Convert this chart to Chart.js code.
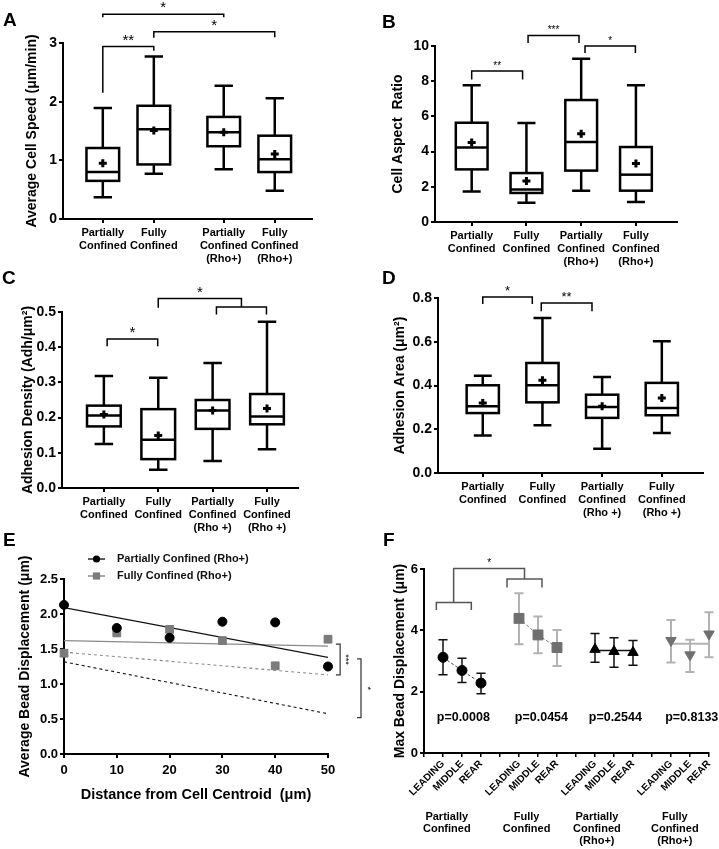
<!DOCTYPE html>
<html>
<head>
<meta charset="utf-8">
<script src="https://cdn.jsdelivr.net/npm/chart.js@4.4.1/dist/chart.umd.min.js"></script>
<style>
body { margin: 0; background: #fff; }
#page { position: relative; width: 719px; height: 849px; overflow: hidden; }
canvas { position: absolute; }
.lt { position: absolute; font: bold 19px "Liberation Sans", Arial, sans-serif; line-height: 1; color: #000; }
</style>
</head>
<body>
<div id="page">
  <canvas id="cA" width="360" height="268" style="left:0;top:0"></canvas>
  <canvas id="cB" width="359" height="268" style="left:360px;top:0"></canvas>
  <canvas id="cC" width="360" height="272" style="left:0;top:268px"></canvas>
  <canvas id="cD" width="359" height="272" style="left:360px;top:268px"></canvas>
  <canvas id="cE" width="380" height="309" style="left:0;top:540px"></canvas>
  <canvas id="cF" width="359" height="309" style="left:360px;top:540px"></canvas>
  <div class="lt" style="left:3px;top:10px">A</div>
  <div class="lt" style="left:382px;top:12px">B</div>
  <div class="lt" style="left:2px;top:268px">C</div>
  <div class="lt" style="left:382px;top:268px">D</div>
  <div class="lt" style="left:3px;top:530px">E</div>
  <div class="lt" style="left:383px;top:530px">F</div>
</div>
<script>
Chart.defaults.font.family = '"Liberation Sans", Arial, Helvetica, sans-serif';
Chart.defaults.color = '#000';

// ---- A: average cell speed
const labelsA = [['Partially', 'Confined'], ['Fully', 'Confined'], ['Partially', 'Confined', '(Rho+)'], ['Fully', 'Confined', '(Rho+)']];
const speedPos = [0, 1, 2.37, 3.37];
const speedMin = [0.37, 0.77, 0.85, 0.48];
const speedQ1 = [0.65, 0.93, 1.24, 0.80];
const speedMed = [0.80, 1.53, 1.48, 1.02];
const speedQ3 = [1.21, 1.93, 1.74, 1.42];
const speedMax = [1.89, 2.77, 2.27, 2.06];
const speedMean = [0.95, 1.51, 1.48, 1.11];
const speedSig = [
  { x1: 0, x2: 1, top: 2.94, y1: 2.15, y2: 2.87, text: '**' },
  { x1: 1, x2: 3.37, top: 3.19, y1: 3.09, y2: 3.10, text: '*' },
  { x1: 0, x2: 2.37, top: 3.49, y1: 3.44, y2: 3.44, text: '*' }
];

// ---- B: cell aspect ratio
const labelsB = labelsA;
const ratioPos = [0, 1, 2, 3];
const ratioMin = [1.74, 1.10, 1.78, 1.14];
const ratioQ1 = [2.99, 1.65, 2.92, 1.78];
const ratioMed = [4.24, 1.84, 4.55, 2.69];
const ratioQ3 = [5.64, 2.78, 6.93, 4.26];
const ratioMax = [7.77, 5.63, 9.28, 7.77];
const ratioMean = [4.51, 2.33, 5.02, 3.33];
const ratioSig = [
  { x1: 0, x2: 0.93, top: 8.58, y1: 8.1, y2: 8.1, text: '**' },
  { x1: 1.03, x2: 1.96, top: 10.6, y1: 10.17, y2: 10.17, text: '***' },
  { x1: 2.07, x2: 2.99, top: 10.0, y1: 9.6, y2: 9.6, text: '*' }
];

// ---- C: adhesion density
const labelsC = [['Partially', 'Confined'], ['Fully', 'Confined'], ['Partially', 'Confined', '(Rho +)'], ['Fully', 'Confined', '(Rho +)']];
const densPos = [0, 1, 2, 3];
const densMin = [0.125, 0.052, 0.077, 0.110];
const densQ1 = [0.175, 0.082, 0.168, 0.181];
const densMed = [0.206, 0.137, 0.220, 0.203];
const densQ3 = [0.234, 0.224, 0.250, 0.267];
const densMax = [0.318, 0.313, 0.355, 0.472];
const densMean = [0.209, 0.149, 0.220, 0.226];
const densSig = [
  { x1: 0.06, x2: 0.99, top: 0.423, y1: 0.403, y2: 0.403, text: '*' },
  { x1: 1.0, x2: 2.53, top: 0.538, y1: 0.512, y2: 0.514, text: '*' },
  { x1: 2.07, x2: 2.99, top: 0.514, y1: 0.493, y2: 0.493, text: '' }
];

// ---- D: adhesion area
const labelsD = labelsC;
const areaPos = [0, 1, 2, 3];
const areaMin = [0.171, 0.218, 0.111, 0.183];
const areaQ1 = [0.274, 0.323, 0.252, 0.264];
const areaMed = [0.305, 0.401, 0.302, 0.297];
const areaQ3 = [0.401, 0.503, 0.358, 0.412];
const areaMax = [0.445, 0.709, 0.439, 0.602];
const areaMean = [0.320, 0.424, 0.305, 0.343];
const areaSig = [
  { x1: 0, x2: 0.83, top: 0.805, y1: 0.773, y2: 0.773, text: '*' },
  { x1: 0.98, x2: 1.83, top: 0.777, y1: 0.74, y2: 0.74, text: '**' }
];

// ---- E: bead displacement vs distance
const distX = [0, 10, 20, 30, 40, 50];
const pcRhoDisp = [2.13, 1.80, 1.66, 1.89, 1.88, 1.25];
const fcRhoDisp = [1.44, 1.73, 1.78, 1.62, 1.26, 1.64];
const fitX = [0, 50];
const pcFit = [2.09, 1.38];
const fcFit = [1.62, 1.54];
const fcDash = [1.455, 1.13];
const pcDash = [1.317, 0.575];
const eSig = [
  { x: 52.3, tick: 51.5, y1: 1.57, y2: 1.13, tx: 53.3, text: '***' },
  { x: 56.25, tick: 55.5, y1: 1.36, y2: 0.52, tx: 57.4, text: '*' }
];

// ---- F: max bead displacement by region
const fTickLabels = ['', 'LEADING', 'MIDDLE', 'REAR', '', 'LEADING', 'MIDDLE', 'REAR', '',
  'LEADING', 'MIDDLE', 'REAR', '', 'LEADING', 'MIDDLE', 'REAR'];
const fGroupNames = [['Partially', 'Confined'], ['Fully', 'Confined'], ['Partially', 'Confined', '(Rho+)'], ['Fully', 'Confined', '(Rho+)']];
const fGroupX = [1.2, 5.4, 9.1, 13.2];
const fPcX = [1, 2, 3], fFcX = [5, 6, 7], fPcrX = [9, 10, 11], fFcrX = [13, 14, 15];
const fPcMean = [3.12, 2.69, 2.28], fPcUp = [3.69, 3.09, 2.60], fPcLo = [2.55, 2.30, 1.93];
const fFcMean = [4.39, 3.85, 3.44], fFcUp = [5.21, 4.45, 4.01], fFcLo = [3.55, 3.25, 2.84];
const fPcrMean = [3.38, 3.31, 3.28], fPcrUp = [3.90, 3.76, 3.67], fPcrLo = [2.96, 2.80, 2.86];
const fFcrMean = [3.67, 3.20, 3.88], fFcrUp = [4.34, 3.69, 4.59], fFcrLo = [2.95, 2.64, 3.12];
const fPcrFit = [3.34, 3.34], fFcrFit = [3.56, 3.56];
const fPText = ['p=0.0008', 'p=0.0454', 'p=0.2544', 'p=0.8133'];
const fPX = [2.07, 6.18, 10.07, 14.09];
const fPY = 1.14;
const fSig = [
  { x1: 0.65, x2: 2.49, top: 4.91, y1: 4.66, y2: 4.66, text: '' },
  { x1: 4.37, x2: 6.21, top: 5.67, y1: 5.40, y2: 5.40, text: '' },
  { x1: 1.56, x2: 5.29, top: 6.02, y1: 4.91, y2: 5.67, text: '*' }
];

const xy = (xs, ys) => xs.map((x, i) => ({ x: x, y: ys[i] }));

function boxPlugin(b) {
  return {
    id: 'boxes',
    beforeDatasetsDraw(chart) {
      const ctx = chart.ctx, xs = chart.scales.x, ys = chart.scales.y;
      const y = v => ys.getPixelForValue(v);
      ctx.save();
      ctx.strokeStyle = '#000';
      ctx.lineWidth = 2.5;
      ctx.fillStyle = '#fff';
      b.pos.forEach((p, i) => {
        const xc = xs.getPixelForValue(p);
        const xl = xs.getPixelForValue(p - b.half), xr = xs.getPixelForValue(p + b.half);
        const cl = xs.getPixelForValue(p - b.cap), cr = xs.getPixelForValue(p + b.cap);
        ctx.beginPath();
        ctx.moveTo(xc, y(b.q3[i])); ctx.lineTo(xc, y(b.max[i]));
        ctx.moveTo(cl, y(b.max[i])); ctx.lineTo(cr, y(b.max[i]));
        ctx.moveTo(xc, y(b.q1[i])); ctx.lineTo(xc, y(b.min[i]));
        ctx.moveTo(cl, y(b.min[i])); ctx.lineTo(cr, y(b.min[i]));
        ctx.stroke();
        ctx.fillRect(xl, y(b.q3[i]), xr - xl, y(b.q1[i]) - y(b.q3[i]));
        ctx.strokeRect(xl, y(b.q3[i]), xr - xl, y(b.q1[i]) - y(b.q3[i]));
        ctx.beginPath();
        ctx.moveTo(xl, y(b.med[i])); ctx.lineTo(xr, y(b.med[i]));
        ctx.stroke();
      });
      ctx.restore();
    }
  };
}

function bracketPlugin(list, fontSize, color, lw) {
  return {
    id: 'brackets',
    afterDatasetsDraw(chart) {
      const ctx = chart.ctx, xs = chart.scales.x, ys = chart.scales.y;
      ctx.save();
      ctx.strokeStyle = color;
      ctx.lineWidth = lw;
      list.forEach(b => {
        const x1 = xs.getPixelForValue(b.x1), x2 = xs.getPixelForValue(b.x2), t = ys.getPixelForValue(b.top);
        ctx.beginPath();
        ctx.moveTo(x1, ys.getPixelForValue(b.y1));
        ctx.lineTo(x1, t);
        ctx.lineTo(x2, t);
        ctx.lineTo(x2, ys.getPixelForValue(b.y2));
        ctx.stroke();
        if (b.text) {
          ctx.fillStyle = '#000';
          ctx.font = fontSize + 'px "Liberation Sans", Arial, sans-serif';
          ctx.textAlign = 'center';
          ctx.textBaseline = 'alphabetic';
          ctx.fillText(b.text, (x1 + x2) / 2, t - 2);
        }
      });
      ctx.restore();
    }
  };
}

function boxChart(id, c) {
  const canvas = document.getElementById(id);
  const W = canvas.width, H = canvas.height;
  const padL = c.titleX - (14 * 1.2 / 2 + 4);
  return new Chart(canvas, {
    type: 'scatter',
    data: {
      datasets: [{
        data: xy(c.pos, c.mean),
        pointStyle: 'cross',
        pointRadius: 4,
        pointHoverRadius: 4,
        borderColor: '#000',
        borderWidth: 3,
        clip: false
      }]
    },
    options: {
      responsive: false,
      animation: false,
      events: [],
      layout: { padding: { left: padL, top: c.area.top, right: W - c.area.right, bottom: 0 } },
      plugins: { legend: { display: false }, tooltip: { enabled: false } },
      scales: {
        x: {
          type: 'linear', min: c.xmin, max: c.xmax,
          afterBuildTicks: s => { s.ticks = c.pos.map(v => ({ value: v })); },
          afterFit: s => { s.height = H - c.area.bottom; },
          grid: { drawOnChartArea: false, drawTicks: true, tickLength: 4, color: '#000', lineWidth: 2 },
          border: { display: true, color: '#000', width: 2 },
          ticks: {
            autoSkip: false, maxRotation: 0, minRotation: 0, padding: 3,
            font: { size: 11, weight: 'bold', lineHeight: 1.2 },
            callback: (v, i) => c.labels[i]
          }
        },
        y: {
          min: 0, max: c.ymax,
          afterFit: s => { s.width = c.area.left - padL; },
          grid: { drawOnChartArea: false, drawTicks: true, tickLength: 4, color: '#000', lineWidth: 2 },
          border: { display: true, color: '#000', width: 2 },
          ticks: { stepSize: c.step, padding: 2, font: { size: 14, weight: 'bold' }, callback: v => c.fmt(v) },
          title: { display: true, text: c.title, font: { size: 14, weight: 'bold' } }
        }
      }
    },
    plugins: [
      boxPlugin({ pos: c.pos, min: c.min, q1: c.q1, med: c.med, q3: c.q3, max: c.max, half: c.half, cap: c.cap }),
      bracketPlugin(c.sig, c.starSize, '#000', 1.5)
    ]
  });
}

boxChart('cA', {
  labels: labelsA, pos: speedPos, min: speedMin, q1: speedQ1, med: speedMed, q3: speedQ3, max: speedMax, mean: speedMean,
  sig: speedSig, starSize: 15, half: 0.32, cap: 0.18,
  area: { left: 63, right: 312, top: 43, bottom: 219 }, titleX: 32,
  xmin: -0.78, xmax: 4.1, ymax: 3, step: 1, fmt: v => String(v),
  title: 'Average Cell Speed (\u03bcm/min)'
});

boxChart('cB', {
  labels: labelsB, pos: ratioPos, min: ratioMin, q1: ratioQ1, med: ratioMed, q3: ratioQ3, max: ratioMax, mean: ratioMean,
  sig: ratioSig, starSize: 10, half: 0.29, cap: 0.165,
  area: { left: 75, right: 317, top: 46, bottom: 222 }, titleX: 38,
  xmin: -0.67, xmax: 3.75, ymax: 10, step: 2, fmt: v => String(v),
  title: 'Cell Aspect  Ratio'
});

boxChart('cC', {
  labels: labelsC, pos: densPos, min: densMin, q1: densQ1, med: densMed, q3: densQ3, max: densMax, mean: densMean,
  sig: densSig, starSize: 15, half: 0.31, cap: 0.17,
  area: { left: 62, right: 298, top: 44, bottom: 220 }, titleX: 28,
  xmin: -0.77, xmax: 3.57, ymax: 0.5, step: 0.1, fmt: v => v.toFixed(1),
  title: 'Adhesion Density (Adh/\u03bcm\u00b2)'
});

boxChart('cD', {
  labels: labelsD, pos: areaPos, min: areaMin, q1: areaQ1, med: areaMed, q3: areaQ3, max: areaMax, mean: areaMean,
  sig: areaSig, starSize: 13, half: 0.27, cap: 0.15,
  area: { left: 78, right: 343, top: 30, bottom: 205 }, titleX: 40,
  xmin: -0.75, xmax: 3.69, ymax: 0.8, step: 0.2, fmt: v => v.toFixed(1),
  title: 'Adhesion Area (\u03bcm\u00b2)'
});

// ---- E chart
const eLegendPlugin = {
  id: 'eLegend',
  afterDraw(chart) {
    const ctx = chart.ctx, a = chart.chartArea;
    const items = [
      { text: 'Partially Confined (Rho+)', color: '#000', shape: 'circle', dy: -20 },
      { text: 'Fully Confined (Rho+)', color: '#7b7b7b', shape: 'rect', dy: -3 }
    ];
    ctx.save();
    items.forEach(it => {
      const y = a.top + it.dy, x0 = a.left + 24, x1 = a.left + 41, xm = (x0 + x1) / 2;
      ctx.strokeStyle = it.color; ctx.fillStyle = it.color; ctx.lineWidth = 1.3;
      ctx.beginPath(); ctx.moveTo(x0, y); ctx.lineTo(x1, y); ctx.stroke();
      if (it.shape === 'circle') {
        ctx.beginPath(); ctx.arc(xm, y, 3.6, 0, Math.PI * 2); ctx.fill();
      } else {
        ctx.fillRect(xm - 3.6, y - 3.6, 7.2, 7.2);
      }
      ctx.fillStyle = '#111';
      ctx.font = 'bold 11px "Liberation Sans", Arial, sans-serif';
      ctx.textAlign = 'left'; ctx.textBaseline = 'middle';
      ctx.fillText(it.text, a.left + 53, y);
    });
    ctx.restore();
  }
};

const eSigPlugin = {
  id: 'eSig',
  afterDraw(chart) {
    const ctx = chart.ctx, xs = chart.scales.x, ys = chart.scales.y;
    ctx.save();
    ctx.strokeStyle = '#333'; ctx.lineWidth = 1.2;
    eSig.forEach(b => {
      const x = xs.getPixelForValue(b.x), xt = xs.getPixelForValue(b.tick);
      const y1 = ys.getPixelForValue(b.y1), y2 = ys.getPixelForValue(b.y2);
      ctx.beginPath();
      ctx.moveTo(xt, y1); ctx.lineTo(x, y1); ctx.lineTo(x, y2); ctx.lineTo(xt, y2);
      ctx.stroke();
      ctx.save();
      ctx.translate(xs.getPixelForValue(b.tx), (y1 + y2) / 2);
      ctx.rotate(Math.PI / 2);
      ctx.fillStyle = '#000';
      ctx.font = '9px "Liberation Sans", Arial, sans-serif';
      ctx.textAlign = 'center'; ctx.textBaseline = 'middle';
      ctx.fillText(b.text, 0, 0);
      ctx.restore();
    });
    ctx.restore();
  }
};

(function () {
  const canvas = document.getElementById('cE');
  const W = canvas.width, H = canvas.height;
  const area = { left: 64, right: 328, top: 39, bottom: 214 };
  const padL = 25 - (14 * 1.2 / 2 + 4);
  const xBottom = 255 + 14.5 * 1.2 / 2 + 4;
  new Chart(canvas, {
    type: 'scatter',
    data: {
      datasets: [
        { data: xy(distX, pcRhoDisp), pointStyle: 'circle', pointRadius: 4.5, backgroundColor: '#000', borderColor: '#000', clip: false },
        { data: xy(distX, fcRhoDisp), pointStyle: 'rect', pointRadius: 5.5, backgroundColor: '#7b7b7b', borderColor: '#7b7b7b', clip: false },
        { data: xy(fitX, pcFit), showLine: true, pointRadius: 0, borderColor: '#111', borderWidth: 1.3 },
        { data: xy(fitX, fcFit), showLine: true, pointRadius: 0, borderColor: '#8a8a8a', borderWidth: 1.3 },
        { data: xy(fitX, fcDash), showLine: true, pointRadius: 0, borderColor: '#8a8a8a', borderWidth: 1.1, borderDash: [3, 3] },
        { data: xy(fitX, pcDash), showLine: true, pointRadius: 0, borderColor: '#111', borderWidth: 1.1, borderDash: [3, 3] }
      ]
    },
    options: {
      responsive: false, animation: false, events: [],
      layout: { padding: { left: padL, top: area.top, right: W - area.right, bottom: H - xBottom } },
      plugins: { legend: { display: false }, tooltip: { enabled: false } },
      scales: {
        x: {
          type: 'linear', min: 0, max: 50,
          afterFit: s => { s.height = xBottom - area.bottom; },
          grid: { drawOnChartArea: false, drawTicks: true, tickLength: 4, color: '#000', lineWidth: 2 },
          border: { display: true, color: '#000', width: 2 },
          ticks: { stepSize: 10, padding: 5, font: { size: 13, weight: 'bold' } },
          title: { display: true, text: 'Distance from Cell Centroid  (\u03bcm)', font: { size: 14.5, weight: 'bold' } }
        },
        y: {
          min: 0, max: 2.5,
          afterFit: s => { s.width = area.left - padL; },
          grid: { drawOnChartArea: false, drawTicks: true, tickLength: 4, color: '#000', lineWidth: 2 },
          border: { display: true, color: '#000', width: 2 },
          ticks: { stepSize: 0.5, padding: 2, font: { size: 13, weight: 'bold' }, callback: v => v.toFixed(1) },
          title: { display: true, text: 'Average Bead Displacement (\u03bcm)', font: { size: 14, weight: 'bold' } }
        }
      }
    },
    plugins: [eLegendPlugin, eSigPlugin]
  });
})();

// ---- F chart
const fErrPlugin = {
  id: 'fErr',
  beforeDatasetsDraw(chart) {
    const ctx = chart.ctx, xs = chart.scales.x, ys = chart.scales.y;
    const groups = [
      { x: fPcX, up: fPcUp, lo: fPcLo, color: '#111', w: 1.5 },
      { x: fFcX, up: fFcUp, lo: fFcLo, color: '#b3b3b3', w: 2 },
      { x: fPcrX, up: fPcrUp, lo: fPcrLo, color: '#111', w: 1.5 },
      { x: fFcrX, up: fFcrUp, lo: fFcrLo, color: '#b3b3b3', w: 2 }
    ];
    ctx.save();
    groups.forEach(g => {
      ctx.strokeStyle = g.color; ctx.lineWidth = g.w;
      g.x.forEach((xv, i) => {
        const x = xs.getPixelForValue(xv), cl = xs.getPixelForValue(xv - 0.24), cr = xs.getPixelForValue(xv + 0.24);
        const yu = ys.getPixelForValue(g.up[i]), yl = ys.getPixelForValue(g.lo[i]);
        ctx.beginPath();
        ctx.moveTo(x, yu); ctx.lineTo(x, yl);
        ctx.moveTo(cl, yu); ctx.lineTo(cr, yu);
        ctx.moveTo(cl, yl); ctx.lineTo(cr, yl);
        ctx.stroke();
      });
    });
    ctx.restore();
  },
  afterDraw(chart) {
    const ctx = chart.ctx, xs = chart.scales.x, ys = chart.scales.y, a = chart.chartArea;
    ctx.save();
    ctx.fillStyle = '#000';
    ctx.textAlign = 'center'; ctx.textBaseline = 'middle';
    ctx.font = 'bold 12.5px "Liberation Sans", Arial, sans-serif';
    fPText.forEach((t, i) => ctx.fillText(t, xs.getPixelForValue(fPX[i]), ys.getPixelForValue(fPY)));
    ctx.font = 'bold 11px "Liberation Sans", Arial, sans-serif';
    fGroupNames.forEach((lines, i) => {
      lines.forEach((ln, j) => ctx.fillText(ln, xs.getPixelForValue(fGroupX[i]), a.bottom + 64 + j * 12));
    });
    ctx.restore();
  }
};

(function () {
  const canvas = document.getElementById('cF');
  const W = canvas.width, H = canvas.height;
  const area = { left: 64, right: 349, top: 29, bottom: 213 };
  const padL = 40 - (14 * 1.2 / 2 + 4);
  new Chart(canvas, {
    type: 'scatter',
    data: {
      datasets: [
        { data: xy(fPcX, fPcMean), pointStyle: 'circle', pointRadius: 5, backgroundColor: '#000', pointBorderColor: '#000',
          showLine: true, borderColor: '#444', borderWidth: 1, borderDash: [3, 2], clip: false },
        { data: xy(fFcX, fFcMean), pointStyle: 'rect', pointRadius: 7, backgroundColor: '#6f6f6f', pointBorderColor: '#6f6f6f',
          showLine: true, borderColor: '#777', borderWidth: 1, borderDash: [3, 2], clip: false },
        { data: xy(fPcrX, fPcrMean), pointStyle: 'triangle', pointRadius: 6, backgroundColor: '#000', borderColor: '#000', clip: false },
        { data: xy(fFcrX, fFcrMean), pointStyle: 'triangle', rotation: 180, pointRadius: 6, backgroundColor: '#6f6f6f', borderColor: '#6f6f6f', clip: false },
        { data: xy([fPcrX[0], fPcrX[2]], fPcrFit), showLine: true, pointRadius: 0, borderColor: '#111', borderWidth: 1.5 },
        { data: xy([fFcrX[0], fFcrX[2]], fFcrFit), showLine: true, pointRadius: 0, borderColor: '#b3b3b3', borderWidth: 2 }
      ]
    },
    options: {
      responsive: false, animation: false, events: [],
      layout: { padding: { left: padL, top: area.top, right: W - area.right, bottom: 0 } },
      plugins: { legend: { display: false }, tooltip: { enabled: false } },
      scales: {
        x: {
          type: 'linear', min: 0, max: 15,
          afterBuildTicks: s => { s.ticks = fTickLabels.map((t, i) => ({ value: i })); },
          afterFit: s => { s.height = H - area.bottom; },
          grid: { drawOnChartArea: false, drawTicks: true, tickLength: 4, color: '#000', lineWidth: 1.5 },
          border: { display: true, color: '#000', width: 2 },
          ticks: { autoSkip: false, minRotation: 45, maxRotation: 45, padding: 1,
            font: { size: 10, weight: 'bold' }, callback: (v, i) => fTickLabels[i] }
        },
        y: {
          min: 0, max: 6,
          afterFit: s => { s.width = area.left - padL; },
          grid: { drawOnChartArea: false, drawTicks: true, tickLength: 4, color: '#000', lineWidth: 2 },
          border: { display: true, color: '#000', width: 2 },
          ticks: { stepSize: 2, padding: 2, font: { size: 13, weight: 'bold' } },
          title: { display: true, text: 'Max Bead Displacement (\u03bcm)', font: { size: 14, weight: 'bold' } }
        }
      }
    },
    plugins: [fErrPlugin, bracketPlugin(fSig, 10, '#555', 1.5)]
  });
})();
</script>
</body>
</html>
